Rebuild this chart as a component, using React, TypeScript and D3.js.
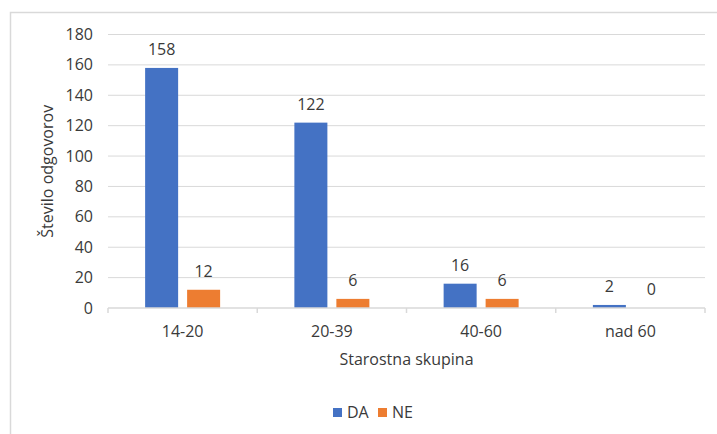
import React from "react";
import * as d3 from "d3";

const categories = ["14-20", "20-39", "40-60", "nad 60"];
const seriesNames = ["DA", "NE"];
const daValues = [158, 122, 16, 2];
const neValues = [12, 6, 6, 0];
const yTicks = [0, 20, 40, 60, 80, 100, 120, 140, 160, 180];
const colors = ["#4472C4", "#ED7D31"];
const yTitle = "Število odgovorov";
const xTitle = "Starostna skupina";

const W = 717;
const H = 434;
const FONT = "'Open Sans', sans-serif";
const TEXT = "#3a3a3a";
const GRID = "#D9D9D9";

export default function App() {
  const left = 108, right = 705, top = 34.5, bottom = 308;
  const x0 = d3.scaleBand<string>().domain(categories).range([left, right]).paddingInner(0).paddingOuter(0);
  const x1 = d3
    .scaleBand<string>()
    .domain(seriesNames)
    .range([0, x0.bandwidth()])
    .paddingInner(0.214)
    .paddingOuter(0.884);
  const y = d3.scaleLinear().domain([0, 180]).range([bottom, top]);
  const values = [daValues, neValues];

  return (
    <svg width={W} height={H} style={{ position: "absolute", left: 0, top: 0, background: "#fff" }}>
      <rect x={10.5} y={12.5} width={740} height={440} fill="#fff" stroke={GRID} strokeWidth={1.5} />
      {yTicks.map((t) =>
        t === 0 ? null : (
          <line key={t} x1={left} x2={right} y1={y(t)} y2={y(t)} stroke={GRID} strokeWidth={1} />
        )
      )}
      {yTicks.map((t) => (
        <text
          key={"l" + t}
          x={93}
          y={y(t)}
          dy="0.35em"
          textAnchor="end"
          fontFamily={FONT}
          fontSize={16}
          fill={TEXT}
        >
          {t}
        </text>
      ))}
      {categories.map((c, ci) =>
        seriesNames.map((s, si) => {
          const v = values[si][ci];
          const bx = (x0(c) ?? 0) + (x1(s) ?? 0);
          return (
            <g key={c + s}>
              <rect x={bx} y={y(v)} width={x1.bandwidth()} height={bottom - y(v)} fill={colors[si]} />
              <text
                x={bx + x1.bandwidth() / 2}
                y={y(v) - 13}
                textAnchor="middle"
                fontFamily={FONT}
                fontSize={16}
                fill={TEXT}
              >
                {v}
              </text>
            </g>
          );
        })
      )}
      <line x1={left} x2={right} y1={bottom} y2={bottom} stroke={GRID} strokeWidth={1.5} />
      {[...categories.map((c) => x0(c) ?? 0), right].map((xx, i) => (
        <line key={"t" + i} x1={xx} x2={xx} y1={bottom} y2={bottom + 5} stroke={GRID} strokeWidth={1.5} />
      ))}
      {categories.map((c) => (
        <text
          key={"c" + c}
          x={(x0(c) ?? 0) + x0.bandwidth() / 2}
          y={337}
          textAnchor="middle"
          fontFamily={FONT}
          fontSize={16}
          fill={TEXT}
        >
          {c}
        </text>
      ))}
      <text
        x={(left + right) / 2}
        y={365}
        textAnchor="middle"
        fontFamily={FONT}
        fontSize={16}
        fill={TEXT}
      >
        {xTitle}
      </text>
      <text
        transform={`translate(53, ${(top + bottom) / 2}) rotate(-90)`}
        textAnchor="middle"
        fontFamily={FONT}
        fontSize={16}
        fill={TEXT}
      >
        {yTitle}
      </text>
      {seriesNames.map((s, i) => {
        const lx = i === 0 ? 333 : 378;
        return (
          <g key={"lg" + s}>
            <rect x={lx} y={408} width={9} height={9} fill={colors[i]} />
            <text x={lx + 14} y={412.5} dy="0.35em" fontFamily={FONT} fontSize={16} fill={TEXT}>
              {s}
            </text>
          </g>
        );
      })}
    </svg>
  );
}
